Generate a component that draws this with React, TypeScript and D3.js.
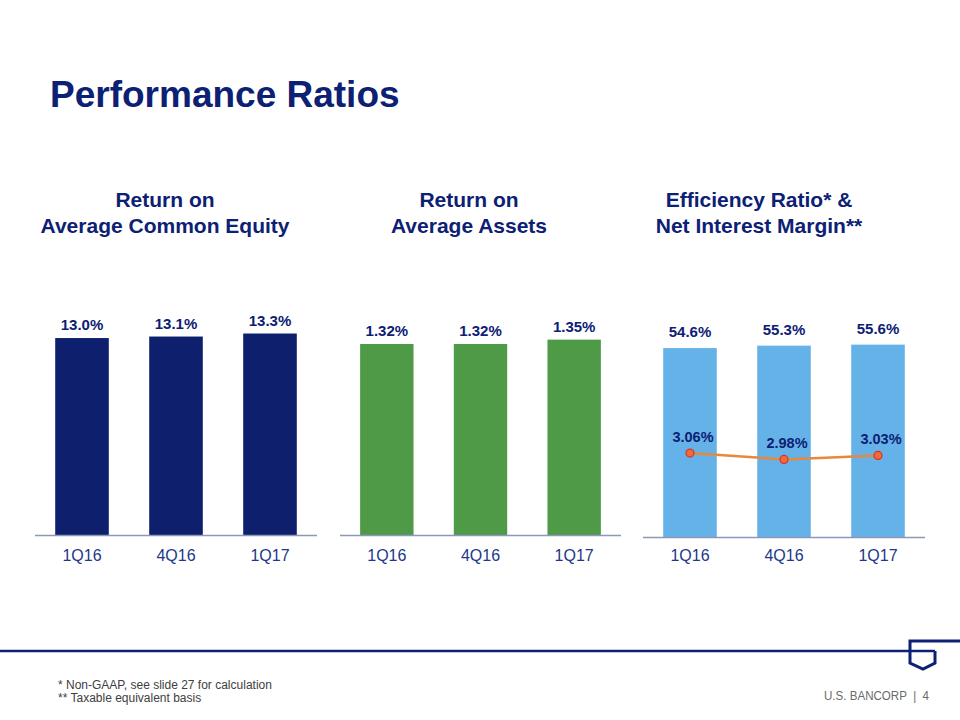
import React from "react";
import * as d3 from "d3";

const categories = ["1Q16", "4Q16", "1Q17"];
const roeValues = [13.0, 13.1, 13.3];
const roeLabels = ["13.0%", "13.1%", "13.3%"];
const roaValues = [1.32, 1.32, 1.35];
const roaLabels = ["1.32%", "1.32%", "1.35%"];
const effValues = [54.6, 55.3, 55.6];
const effLabels = ["54.6%", "55.3%", "55.6%"];
const nimValues = [3.06, 2.98, 3.03];
const nimLabels = ["3.06%", "2.98%", "3.03%"];

const NAVY = "#0c2074";
const FONT = "'Liberation Sans', Arial, sans-serif";

type PanelProps = {
  x0: number;
  x1: number;
  base: number;
  yMax: number;
  hMax: number;
  values: number[];
  labels: string[];
  color: string;
  labelGap: number;
  title: string[];
  titleX: number;
  children?: React.ReactNode;
};

function Panel(p: PanelProps) {
  const x = d3.scaleBand<string>().domain(categories).range([p.x0, p.x1]).paddingInner(0.43).paddingOuter(0.215);
  const y = d3.scaleLinear().domain([0, p.yMax]).range([p.base, p.base - p.hMax]);
  return (
    <g>
      {p.title.map((t, i) => (
        <text key={t} x={p.titleX} y={207 + i * 26} textAnchor="middle" fontFamily={FONT} fontWeight="bold" fontSize={21} fill={NAVY}>
          {t}
        </text>
      ))}
      {categories.map((c, i) => (
        <g key={c}>
          <rect x={x(c)} y={y(p.values[i])} width={x.bandwidth()} height={p.base - y(p.values[i])} fill={p.color} />
          <text x={(x(c) as number) + x.bandwidth() / 2} y={y(p.values[i]) - p.labelGap} textAnchor="middle" fontFamily={FONT} fontWeight="bold" fontSize={15} fill={NAVY}>
            {p.labels[i]}
          </text>
          <text x={(x(c) as number) + x.bandwidth() / 2} y={561} textAnchor="middle" fontFamily={FONT} fontSize={16} fill="#22378a">
            {c}
          </text>
        </g>
      ))}
      <line x1={p.x0} x2={p.x1} y1={p.base + 0.5} y2={p.base + 0.5} stroke="#8d96bd" strokeWidth={1.5} />
      {p.children}
    </g>
  );
}

function NimLine() {
  const x = d3.scaleBand<string>().domain(categories).range([643, 925]).paddingInner(0.43).paddingOuter(0.215);
  const y = d3.scaleLinear().domain([2, 4.4]).range([537, 347]);
  const pts: [number, number][] = categories.map((c, i) => [(x(c) as number) + x.bandwidth() / 2, y(nimValues[i])]);
  const line = d3.line()(pts) as string;
  return (
    <g>
      <path d={line} fill="none" stroke="#e8883c" strokeWidth={2.5} />
      {pts.map((pt, i) => (
        <g key={i}>
          <circle cx={pt[0]} cy={pt[1]} r={4} fill="#ee6a3a" stroke="#d8322a" strokeWidth={1.2} />
          <text x={pt[0] + 3} y={pt[1] - 11} textAnchor="middle" fontFamily={FONT} fontWeight="bold" fontSize={14.5} fill={NAVY}>
            {nimLabels[i]}
          </text>
        </g>
      ))}
    </g>
  );
}

export default function App() {
  return (
    <svg width={960} height={720} style={{ position: "absolute", left: 0, top: 0, background: "#fff" }}>
      <rect width={960} height={720} fill="#fff" />
      <text x={50} y={107} fontFamily={FONT} fontWeight="bold" fontSize={37} fill={NAVY}>
        Performance Ratios
      </text>
      <Panel x0={35} x1={317} base={535} yMax={14} hMax={212.1} values={roeValues} labels={roeLabels} color="#0d1f6d" labelGap={8} title={["Return on", "Average Common Equity"]} titleX={165} />
      <Panel x0={340} x1={621} base={535} yMax={1.4} hMax={202.6} values={roaValues} labels={roaLabels} color="#4e9a46" labelGap={8} title={["Return on", "Average Assets"]} titleX={469} />
      <Panel x0={643} x1={925} base={537} yMax={60} hMax={207.6} values={effValues} labels={effLabels} color="#65b2e8" labelGap={11} title={["Efficiency Ratio* &", "Net Interest Margin**"]} titleX={759}>
        <NimLine />
      </Panel>
      <text x={58} y={689} fontFamily={FONT} fontSize={12} fill="#404040">* Non-GAAP, see slide 27 for calculation</text>
      <text x={58} y={702} fontFamily={FONT} fontSize={12} fill="#404040">** Taxable equivalent basis</text>
      <line x1={0} x2={935} y1={651} y2={651} stroke={NAVY} strokeWidth={2.5} />
      <path d="M960,641 L910,641 L910,663 L923,669 L935,663 L935,651" fill="none" stroke={NAVY} strokeWidth={3} strokeLinejoin="miter" />
      <text x={824} y={700} fontFamily={FONT} fontSize={12.5} textLength={105} lengthAdjust="spacingAndGlyphs" fill="#6a6a6a" style={{ whiteSpace: "pre" }}>
        {"U.S. BANCORP  |  4"}
      </text>
    </svg>
  );
}
